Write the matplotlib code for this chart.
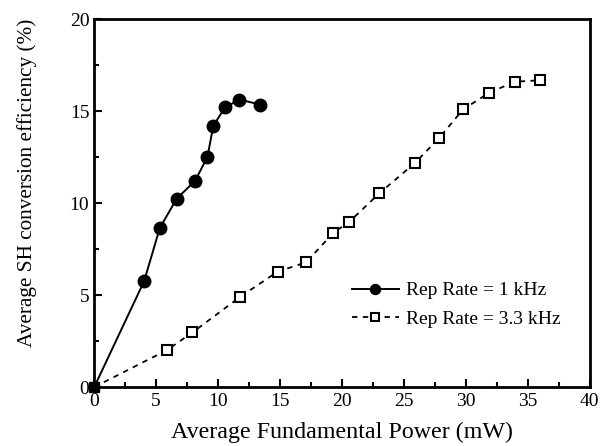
import matplotlib
matplotlib.use("Agg")
import matplotlib.pyplot as plt
from matplotlib.ticker import MultipleLocator

plt.rcParams['font.family'] = ['Liberation Serif', 'DejaVu Serif']

# 1 kHz series (origin included, no marker at origin)
p1 = [0.0, 4.03, 5.3, 6.67, 8.15, 9.14, 9.62, 10.56, 11.72, 13.4]
e1 = [0.0, 5.76, 8.66, 10.25, 11.22, 12.52, 14.22, 15.2, 15.63, 15.36]

# 3.3 kHz series
p2 = [0.0, 5.86, 7.93, 11.77, 14.81, 17.1, 19.3, 20.6, 23.0, 25.9, 27.85, 29.78, 31.88, 33.95, 36.0]
e2 = [0.0, 2.01, 2.97, 4.9, 6.28, 6.78, 8.39, 8.99, 10.53, 12.19, 13.55, 15.1, 16.0, 16.6, 16.68]

label1 = "Rep Rate = 1 kHz"
label2 = "Rep Rate = 3.3 kHz"
xlabel = "Average Fundamental Power (mW)"
ylabel = "Average SH conversion efficiency (%)"

fig = plt.figure(figsize=(6.0, 4.46), dpi=100)
ax = fig.add_axes([0.157, 0.132, 0.826, 0.825])

ax.plot(p2, e2, linestyle=(0, (3, 3)), color='black', lw=1.3,
        marker='s', markersize=7, markerfacecolor='white', markeredgecolor='black',
        markeredgewidth=1.5, markevery=list(range(1, len(p2))), label=label2)
ax.plot(p1, e1, linestyle='-', color='black', lw=1.4,
        marker='o', markersize=9, markerfacecolor='black', markeredgecolor='black',
        markevery=list(range(1, len(p1))), label=label1)
# origin point (shared)
ax.plot(p2[:1], e2[:1], linestyle='none', marker='s', markersize=7,
        color='black', clip_on=False)

ax.set_xlim(0, 40)
ax.set_ylim(0, 20)
ax.xaxis.set_major_locator(MultipleLocator(5))
ax.xaxis.set_minor_locator(MultipleLocator(2.5))
ax.yaxis.set_major_locator(MultipleLocator(5))
ax.yaxis.set_minor_locator(MultipleLocator(2.5))
ax.tick_params(which='both', direction='in', top=False, right=False, labelsize=14, width=1.5)
ax.tick_params(which='major', length=6)
ax.tick_params(which='minor', length=3.5)
ax.tick_params(axis='x', pad=4)
for s in ax.spines.values():
    s.set_linewidth(2)

ax.set_xlabel(xlabel, fontsize=17.3, labelpad=9)
ax.set_ylabel(ylabel, fontsize=15.3)
ax.yaxis.set_label_coords(-0.115, 0.556)

handles, labels = ax.get_legend_handles_labels()
leg = ax.legend(handles[::-1], labels[::-1], loc='center left', bbox_to_anchor=(0.52, 0.224),
                frameon=False, fontsize=14, handlelength=2.4, handletextpad=0.36,
                labelspacing=0.55, borderpad=0, borderaxespad=0, markerscale=0.8)

fig.savefig("out.png", dpi=100)
